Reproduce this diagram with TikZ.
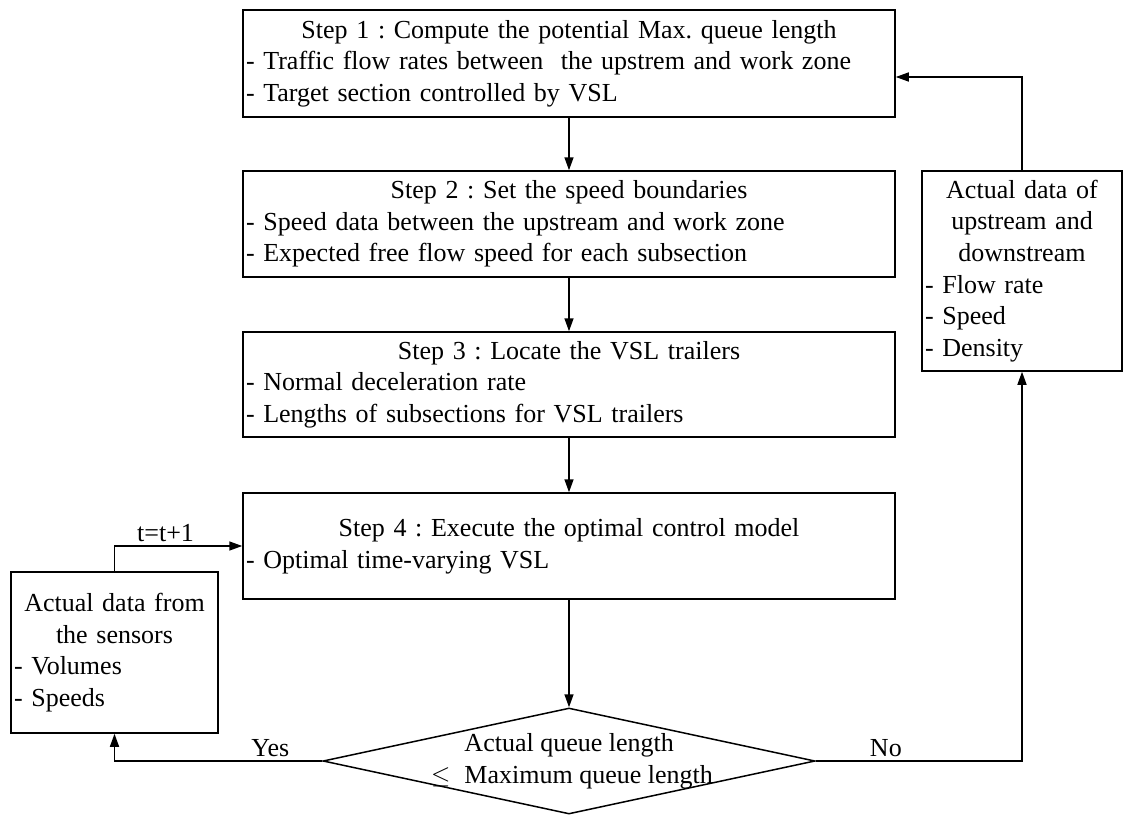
\documentclass[tikz,border=0pt]{standalone}
\usepackage{fontspec}
\setmainfont{Liberation Serif}
\usetikzlibrary{arrows.meta,shapes.geometric}
\newcommand{\boxhead}[1]{\makebox[\linewidth]{#1}\\}
\begin{document}
\begin{tikzpicture}[x=1pt,y=-1pt,line width=1.5pt,
	font=\frenchspacing\fontsize{26}{31.6}\selectfont,
	box/.style={draw,inner xsep=3pt,inner ysep=0pt,align=left},
	arr/.style={-{Triangle[length=13pt,width=9pt]}},
	decision/.style={draw,diamond,inner sep=0pt,minimum width=492pt,minimum height=106pt}]
		\useasboundingbox (0,0) rectangle (1124,814);
		\node[box,text width=646pt,minimum height=107pt] (s1) at (569,63.5) {\boxhead{Step 1 : Compute the potential Max. queue length}- Traffic flow rates between\ \ the upstrem and work zone\\- Target section controlled by VSL};
		\node[box,text width=646pt,minimum height=106pt] (s2) at (569,224) {\boxhead{Step 2 : Set the speed boundaries}- Speed data between the upstream and work zone\\- Expected free flow speed for each subsection};
		\node[box,text width=646pt,minimum height=105pt] (s3) at (569,384.5) {\boxhead{Step 3 : Locate the VSL trailers}- Normal deceleration rate\\- Lengths of subsections for VSL trailers};
		\node[box,text width=646pt,minimum height=106pt] (s4) at (569,546) {\boxhead{Step 4 : Execute the optimal control model}- Optimal time-varying VSL};
		\node[box,text width=194pt,minimum height=200pt] (rbox) at (1022,271) {\boxhead{Actual data of}\boxhead{upstream and}\boxhead{downstream}- Flow rate\\- Speed\\- Density};
		\node[box,text width=201pt,minimum height=161pt] (lbox) at (114.5,652.5) {\boxhead{Actual data from}\boxhead{the sensors}- Volumes\\- Speeds};
		\node[decision] (check) at (569,761) {};
		\node[align=left,inner sep=0pt] (checktxt) at ([xshift=3pt]check.center) {\phantom{$\leq$}\hspace{14pt}Actual queue length\\$\leq$\hspace{14pt}Maximum queue length};
		\draw[arr](s1)--(s2);
		\draw[arr](s2)--(s3);
		\draw[arr](s3)--(s4);
		\draw[arr](s4)--(check);
		\draw[arr](check.east)-|node[pos=0.17,above]{No}(rbox.south);
		\draw[arr](rbox.north)|-([yshift=-13.5pt]s1.east);
		\draw[arr](check.west)-|node[pos=0.125,above]{Yes}(lbox.south);
		\draw[arr](lbox.north)|-node[pos=0.7,above]{t=t+1}(s4.west);
	    \end{tikzpicture}
\end{document}
